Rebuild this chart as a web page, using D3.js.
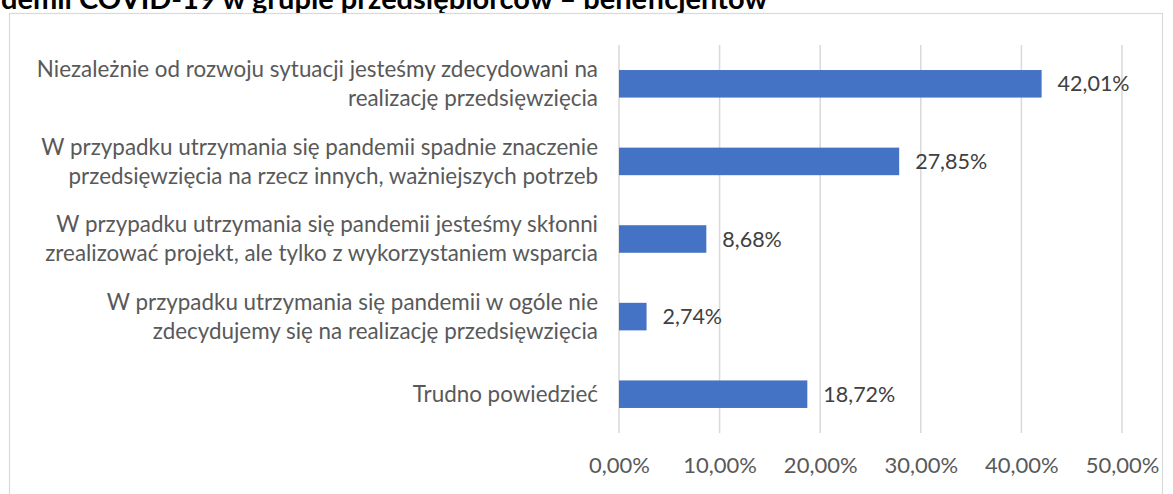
<!DOCTYPE html>
<html>
<head>
<meta charset="utf-8">
<script src="https://cdn.jsdelivr.net/npm/d3@7"></script>
<style>
  html, body { margin: 0; padding: 0; background: #fff; }
  svg { display: block; }
</style>
</head>
<body>
<svg id="chart" width="1173" height="494"></svg>
<script>
const titleText = "demii COVID-19 w grupie przedsiębiorców – beneficjentów";
const categories = [
  ["Niezależnie od rozwoju sytuacji jesteśmy zdecydowani na", "realizację przedsięwzięcia"],
  ["W przypadku utrzymania się pandemii spadnie znaczenie", "przedsięwzięcia na rzecz innych, ważniejszych potrzeb"],
  ["W przypadku utrzymania się pandemii jesteśmy skłonni", "zrealizować projekt, ale tylko z wykorzystaniem wsparcia"],
  ["W przypadku utrzymania się pandemii w ogóle nie", "zdecydujemy się na realizację przedsięwzięcia"],
  ["Trudno powiedzieć"]
];
const values = [42.01, 27.85, 8.68, 2.74, 18.72];
const tickValues = [0, 10, 20, 30, 40, 50];

const fmt = v => v.toFixed(2).replace(".", ",") + "%";
const FONT = "Lato, 'Open Sans', sans-serif";

const svg = d3.select("#chart");

// title (cut off at top, as in the source image)
svg.append("text")
  .attr("x", 1).attr("y", 8.5)
  .attr("font-family", FONT)
  .attr("font-weight", "bold")
  .attr("font-size", 29)
  .attr("fill", "#000")
  .text(titleText);

// chart frame
svg.append("rect")
  .attr("x", 9.5).attr("y", 13.5)
  .attr("width", 1153).attr("height", 500)
  .attr("fill", "#fff")
  .attr("stroke", "#d9d9d9")
  .attr("stroke-width", 1.2);

const x = d3.scaleLinear().domain([0, 50]).range([619, 1122]);
const y = d3.scaleBand().domain(d3.range(values.length)).range([45, 433])
  .paddingInner(0.645).paddingOuter(0.3225);

// gridlines
svg.append("g").selectAll("line").data(tickValues).join("line")
  .attr("x1", d => x(d)).attr("x2", d => x(d))
  .attr("y1", 45).attr("y2", 433)
  .attr("stroke", "#d9d9d9").attr("stroke-width", 1.5);

// x axis labels
const xAxis = d3.axisBottom(x).tickValues(tickValues).tickFormat(d => fmt(d)).tickSize(0).tickPadding(0);
const gx = svg.append("g").attr("transform", "translate(0,457)").call(xAxis);
gx.select(".domain").remove();
gx.selectAll("text")
  .attr("font-family", FONT).attr("font-size", 22).attr("fill", "#595959")
  .attr("dy", "0.71em");

// bars
svg.append("g").selectAll("rect").data(values).join("rect")
  .attr("x", x(0))
  .attr("y", (d, i) => y(i))
  .attr("width", d => x(d) - x(0))
  .attr("height", y.bandwidth())
  .attr("fill", "#4472c4");

// value labels
svg.append("g").selectAll("text").data(values).join("text")
  .attr("x", d => x(d) + 16)
  .attr("y", (d, i) => y(i) + y.bandwidth() / 2)
  .attr("dy", "0.35em")
  .attr("font-family", FONT).attr("font-size", 21.5).attr("fill", "#404040")
  .text(d => fmt(d));

// category labels
const lineH = 29;
const cat = svg.append("g").selectAll("text").data(categories).join("text")
  .attr("text-anchor", "end")
  .attr("font-family", FONT).attr("font-size", 22.4).attr("fill", "#595959")
  .attr("x", 598)
  .attr("y", (d, i) => y(i) + y.bandwidth() / 2 - (d.length - 1) * lineH / 2);
cat.each(function(d) {
  const t = d3.select(this);
  d.forEach((line, k) => {
    t.append("tspan").attr("x", 598).attr("dy", k === 0 ? "0.35em" : lineH).text(line);
  });
});
</script>
</body>
</html>
